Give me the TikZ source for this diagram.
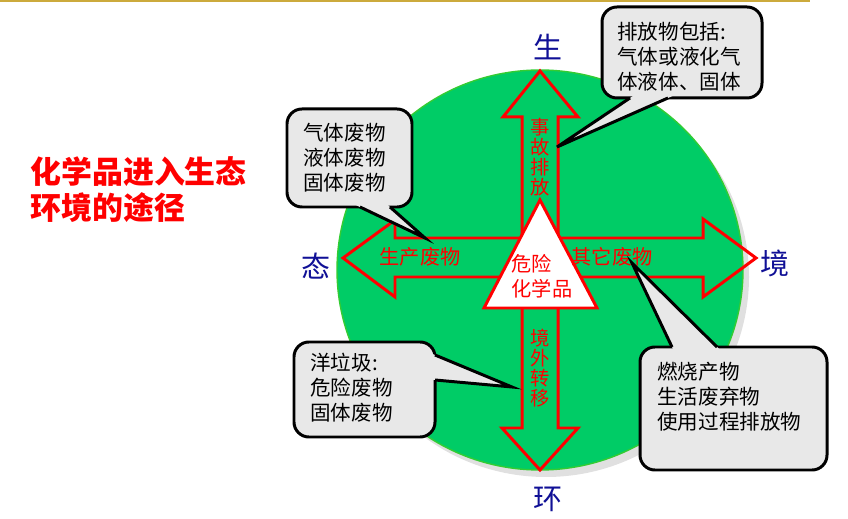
\documentclass[tikz,border=0pt]{standalone}
\usepackage{fontspec}
\setmainfont{Noto Sans CJK SC}
\usetikzlibrary{calc}

\definecolor{envgreen}{RGB}{0,204,102}
\definecolor{edgegreen}{RGB}{51,204,51}
\definecolor{shadowgray}{RGB}{224,224,224}
\definecolor{boxgray}{RGB}{232,232,232}
\definecolor{navy}{RGB}{16,16,150}
\definecolor{goldline}{RGB}{204,170,60}

\tikzset{
  callbox/.style={draw=black,line width=1.7pt,fill=boxgray,rounded corners=8.5pt},
  callline/.style={draw=black,line width=1.7pt,line join=miter},
  calltext/.style={anchor=west,align=left,inner sep=0pt,font=\fontsize{11.7}{14.2}\selectfont},
  sphere/.style={text=navy,inner sep=0pt,font=\fontsize{16.5}{18}\selectfont},
  waste/.style={text=red,inner sep=0pt,font=\fontsize{11.5}{14.2}\selectfont},
  vtext/.style={text=red,inner sep=0pt,align=center,font=\fontsize{11}{11.3}\selectfont},
  route/.style={draw=red,line width=1.7pt,line join=miter},
}

\begin{document}
\begin{tikzpicture}[x=0.02cm,y=-0.02cm]
	\useasboundingbox (0,0) rectangle (848,519);
	\fill[goldline] (0,0) rectangle (810,2);

	% title
	\node[anchor=west,align=left,inner sep=0pt,text=red,font=\bfseries\fontsize{17.6}{20.4}\selectfont] (title) at (30,190) {化学品进入生态\\环境的途径};

	% environment
	\fill[shadowgray] (546,277) ellipse[x radius=203,y radius=200];
	\draw[edgegreen,fill=envgreen,line width=0.8pt] (540,270) ellipse[x radius=203,y radius=200];

	% four routes
	\draw[route] (540,71) -- (578,117) -- (558,117) -- (558,238) -- (703,238) -- (703,219) -- (756,258)
		-- (703,297) -- (703,277) -- (558,277) -- (558,428) -- (578,428) -- (540,470) -- (502,428)
		-- (522,428) -- (522,277) -- (395,277) -- (395,297) -- (343,258) -- (395,220) -- (395,238)
		-- (522,238) -- (522,117) -- (503,117) -- cycle;
	\draw[route,fill=white] (540,200) -- (597,308) -- (484,308) -- cycle;

	\node[waste,align=left] (chem) at (542,276) {危险\\化学品};
	\node[waste] (prod) at (420,257) {生产废物};
	\node[waste] (other) at (612,257) {其它废物};
	\node[vtext] (accident) at (540,157) {事\\故\\排\\放};
	\node[vtext] (transfer) at (540,368) {境\\外\\转\\移};

	\node[sphere] (sheng) at (548,47) {生};
	\node[sphere] (tai) at (316,266) {态};
	\node[sphere] (jing) at (775,263) {境};
	\node[sphere] (huan) at (548,499) {环};

	% callouts
	\coordinate (tlA) at (360,207);
	\coordinate (tlB) at (390,207);
	\coordinate (tlTip) at (425,238);
	\draw[callbox] (287,109) rectangle (412,207);
	\fill[boxgray] ($(tlA)!-4pt!(tlTip)$) -- (tlTip) -- ($(tlB)!-4pt!(tlTip)$) -- cycle;
	\draw[callline] (tlA) -- (tlTip) -- (tlB);
	\node[calltext] (gases) at (303,158) {气体废物\\液体废物\\固体废物};

	\coordinate (trA) at (630,98);
	\coordinate (trB) at (668,98);
	\coordinate (trTip) at (557,147);
	\draw[callbox] (602,7) rectangle (762,98);
	\fill[boxgray] ($(trA)!-4pt!(trTip)$) -- (trTip) -- ($(trB)!-4pt!(trTip)$) -- cycle;
	\draw[callline] (trA) -- (trTip) -- (trB);
	\node[calltext] (release) at (617,57) {排放物包括:\\气体或液化气\\体液体、固体};

	\coordinate (blA) at (435,355);
	\coordinate (blB) at (435,380);
	\coordinate (blTip) at (512,387);
	\draw[callbox] (294,342) rectangle (435,437);
	\fill[boxgray] ($(blA)!-4pt!(blTip)$) -- (blTip) -- ($(blB)!-4pt!(blTip)$) -- cycle;
	\draw[callline] (blA) -- (blTip) -- (blB);
	\node[calltext] (garbage) at (310,388) {洋垃圾:\\危险废物\\固体废物};

	\coordinate (brA) at (672,347);
	\coordinate (brB) at (717,347);
	\coordinate (brTip) at (632,263);
	\draw[callbox] (640,347) rectangle (827,470);
	\fill[boxgray] ($(brA)!-4pt!(brTip)$) -- (brTip) -- ($(brB)!-4pt!(brTip)$) -- cycle;
	\draw[callline] (brA) -- (brTip) -- (brB);
	\node[calltext] (burning) at (657,397) {燃烧产物\\生活废弃物\\使用过程排放物};
\end{tikzpicture}
\end{document}
